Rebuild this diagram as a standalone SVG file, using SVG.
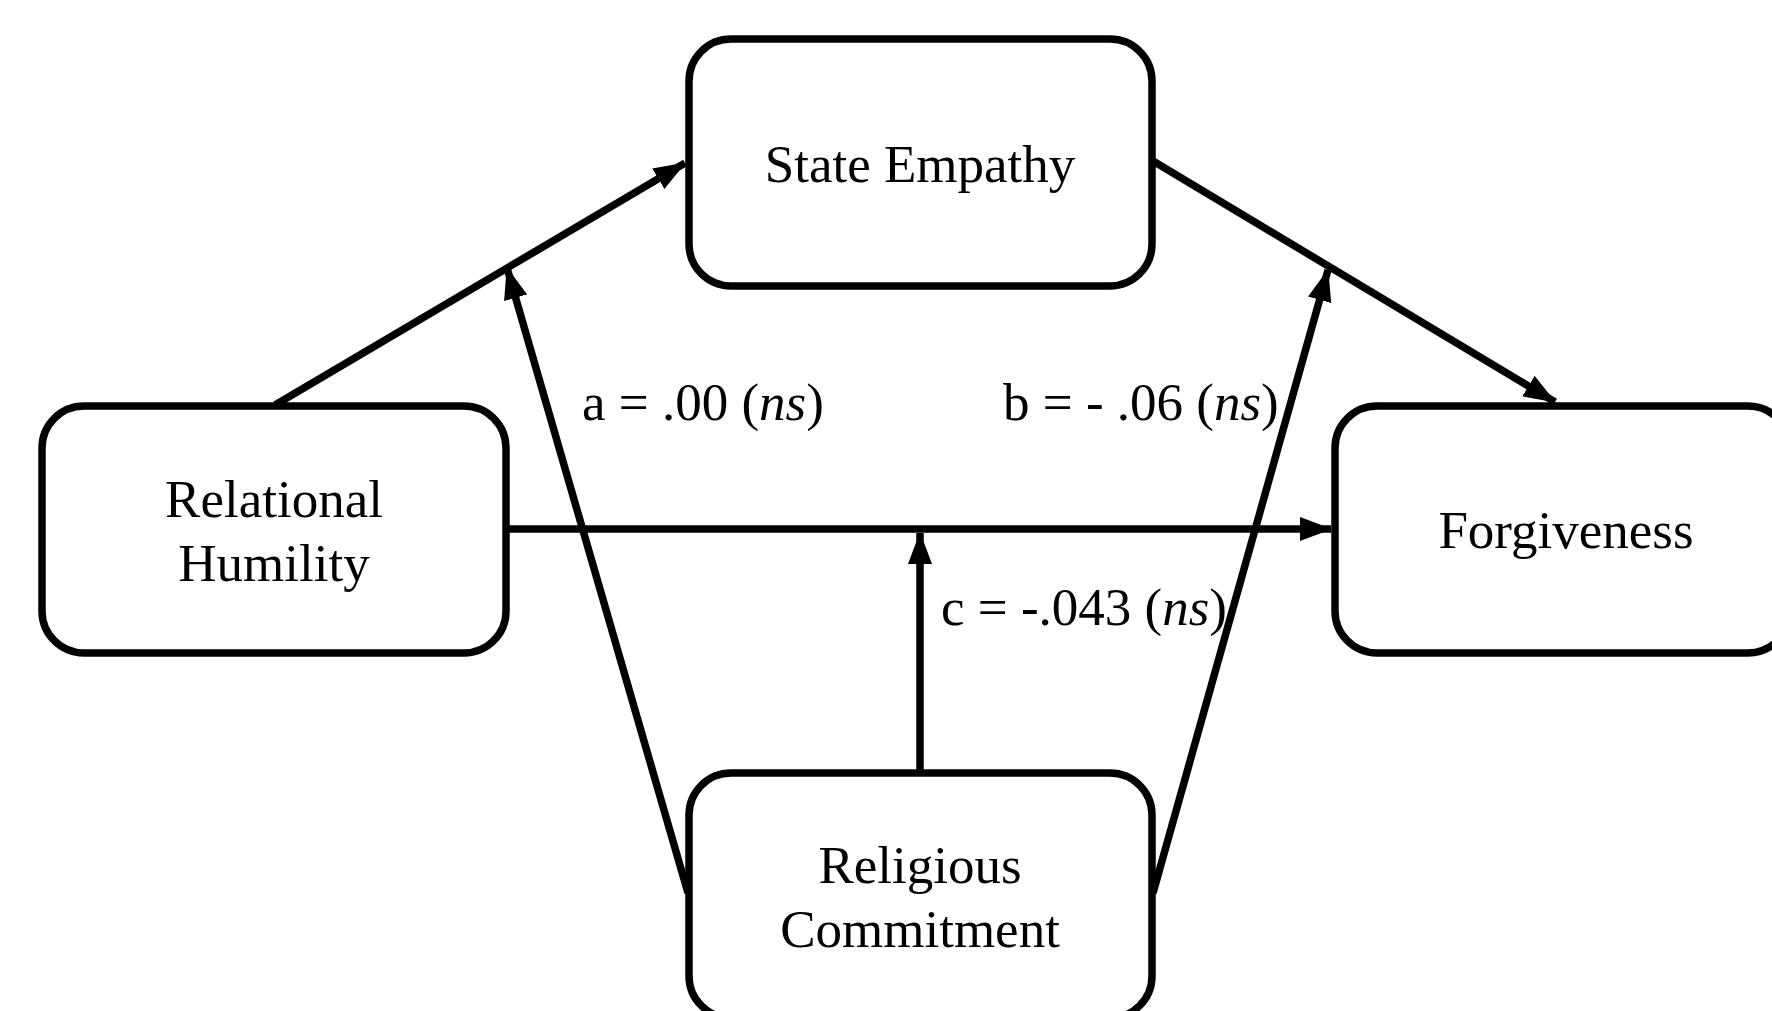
<svg xmlns="http://www.w3.org/2000/svg" width="1772" height="1011" viewBox="0 0 1772 1011">
  <style>
    .box { fill: #ffffff; stroke: #000000; stroke-width: 7.5; }
    .lbl { font-family: "Liberation Serif", "Times New Roman", serif; font-size: 53px; fill: #000000; }
    .mid { text-anchor: middle; }
    .edge { stroke: #000000; stroke-width: 7.5; fill: none; marker-end: url(#arrow); }
  </style>
  <defs>
    <marker id="arrow" markerUnits="userSpaceOnUse" markerWidth="32" markerHeight="26" viewBox="0 0 32 26" refX="31" refY="13" orient="auto">
      <path d="M0,1 L32,13 L0,25 Z" fill="#000000"/>
    </marker>
  </defs>
  <rect width="1772" height="1011" fill="#ffffff"/>
  <g id="connectors">
    <line class="edge" x1="275" y1="405" x2="685" y2="163"/>
    <line class="edge" x1="1153" y1="161" x2="1555" y2="402"/>
    <line class="edge" x1="506" y1="529" x2="1331" y2="529"/>
    <line class="edge" x1="688" y1="893" x2="507" y2="268"/>
    <line class="edge" x1="1153" y1="893" x2="1328" y2="270"/>
    <line class="edge" x1="920" y1="773" x2="920" y2="533"/>
  </g>
  <g id="node-state-empathy">
    <rect class="box" x="689" y="39" width="463" height="247" rx="42" ry="42"/>
    <text class="lbl mid" x="920" y="182">State Empathy</text>
  </g>
  <g id="node-relational-humility">
    <rect class="box" x="42" y="406" width="464" height="247" rx="42" ry="42"/>
    <text class="lbl mid" x="274" y="517">Relational</text>
    <text class="lbl mid" x="274" y="581">Humility</text>
  </g>
  <g id="node-forgiveness">
    <rect class="box" x="1335" y="406" width="455" height="247" rx="42" ry="42"/>
    <text class="lbl mid" x="1566" y="548">Forgiveness</text>
  </g>
  <g id="node-religious-commitment">
    <rect class="box" x="689" y="773" width="463" height="245" rx="42" ry="42"/>
    <text class="lbl mid" x="920" y="883">Religious</text>
    <text class="lbl mid" x="920" y="947">Commitment</text>
  </g>
  <g id="labels">
    <text class="lbl" x="582" y="420">a = .00 (<tspan font-style="italic">ns</tspan>)</text>
    <text class="lbl" x="1003" y="420">b = - .06 (<tspan font-style="italic">ns</tspan>)</text>
    <text class="lbl" x="941" y="625">c = -.043 (<tspan font-style="italic">ns</tspan>)</text>
  </g>
</svg>
